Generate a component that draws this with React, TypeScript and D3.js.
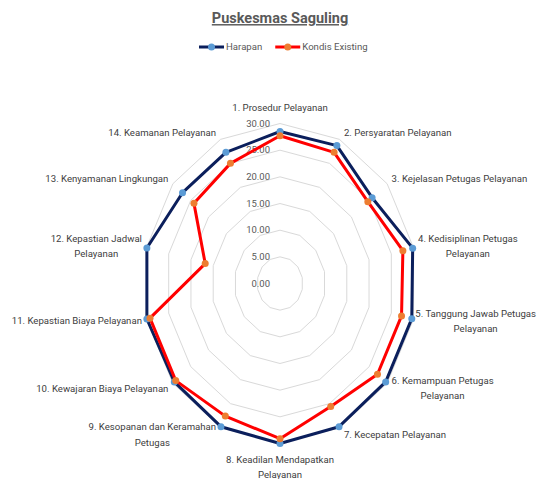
import { useRef, useEffect } from 'react'
import * as d3 from 'd3'

const categories = [
  '1. Prosedur Pelayanan',
  '2. Persyaratan Pelayanan',
  '3. Kejelasan Petugas Pelayanan',
  '4. Kedisiplinan Petugas\nPelayanan',
  '5. Tanggung Jawab Petugas\nPelayanan',
  '6. Kemampuan Petugas\nPelayanan',
  '7. Kecepatan Pelayanan',
  '8. Keadilan Mendapatkan\nPelayanan',
  '9. Kesopanan dan Keramahan\nPetugas',
  '10. Kewajaran Biaya Pelayanan',
  '11. Kepastian Biaya Pelayanan',
  '12. Kepastian Jadwal\nPelayanan',
  '13. Kenyamanan Lingkungan',
  '14. Keamanan Pelayanan',
]

const harapan = [28.5, 28.7, 25.8, 29.8, 29.6, 29.6, 29.8, 30.0, 29.8, 29.6, 29.9, 29.9, 27.3, 27.3]
const kondisi = [27.7, 27.3, 24.6, 27.6, 27.3, 27.3, 25.6, 29.1, 27.6, 29.2, 29.2, 16.8, 24.1, 25.0]

const seriesNames = ['Harapan', 'Kondis Existing']

const W = 537
const H = 479
const cx = 280
const cy = 283.5
const FONT = "Roboto, sans-serif"

export default function App() {
  const ref = useRef(null)

  useEffect(() => {
    const svg = d3.select(ref.current)
    svg.selectAll('*').remove()

    const rx = d3.scaleLinear([0, 30], [0, 137])
    const ry = d3.scaleLinear([0, 30], [0, 160])
    const ang = d3.scaleLinear([0, categories.length], [0, 2 * Math.PI])
    const px = (v, i) => cx + rx(v) * Math.sin(ang(i))
    const py = (v, i) => cy - ry(v) * Math.cos(ang(i))
    const idx = d3.range(categories.length)

    // grid
    const ticks = ry.ticks(6)
    svg.append('g')
      .selectAll('path')
      .data(ticks.filter(t => t > 0))
      .join('path')
      .attr('d', t => d3.line().x(i => px(t, i)).y(i => py(t, i)).curve(d3.curveLinearClosed)(idx))
      .attr('fill', 'none')
      .attr('stroke', '#d9d9d9')
      .attr('stroke-width', 1)

    // value labels
    svg.append('g')
      .selectAll('text')
      .data(ticks)
      .join('text')
      .attr('x', cx - 10)
      .attr('y', t => cy - ry(t))
      .attr('dy', '0.35em')
      .attr('text-anchor', 'end')
      .attr('font-family', FONT)
      .attr('font-size', 9.5)
      .attr('fill', '#595959')
      .text(d3.format('.2f'))

    // series
    const series = [
      { values: harapan, line: '#0b1f5c', marker: '#5b9bd5' },
      { values: kondisi, line: '#ff0000', marker: '#ed7d31' },
    ]
    series.forEach(s => {
      const g = svg.append('g')
      g.append('path')
        .attr('d', d3.line().x(i => px(s.values[i], i)).y(i => py(s.values[i], i)).curve(d3.curveLinearClosed)(idx))
        .attr('fill', 'none')
        .attr('stroke', s.line)
        .attr('stroke-width', 3)
        .attr('stroke-linejoin', 'round')
      g.selectAll('circle')
        .data(idx)
        .join('circle')
        .attr('cx', i => px(s.values[i], i))
        .attr('cy', i => py(s.values[i], i))
        .attr('r', 3.5)
        .attr('fill', s.marker)
    })

    // category labels
    const lh = 15.5
    categories.forEach((c, i) => {
      const lines = c.split('\n')
      const a = ang(i)
      const s = Math.sin(a)
      const co = Math.cos(a)
      const ox = px(30, i)
      const oy = py(30, i)
      const g = svg.append('g')
      const t = g.append('text')
        .attr('font-family', FONT)
        .attr('font-size', 9.6)
        .attr('fill', '#404040')
        .attr('text-anchor', 'middle')
      lines.forEach((l, k) => {
        t.append('tspan').attr('x', 0).attr('y', k * lh).attr('dy', '0.35em').text(l)
      })
      const bw = d3.max(t.selectAll('tspan').nodes(), n => n.getComputedTextLength())
      const bh = (lines.length - 1) * lh
      let tx, ty
      if (Math.abs(s) < 0.01) {
        tx = ox
        ty = co > 0 ? oy - 16 - bh : oy + 16
      } else {
        tx = ox + Math.sign(s) * (4.5 + bw / 2)
        ty = oy - 8 * co - bh / 2
      }
      tx = Math.max(bw / 2 + 1, Math.min(W - bw / 2 - 1, tx))
      g.attr('transform', `translate(${tx},${ty})`)
    })

    // title
    svg.append('text')
      .attr('x', cx)
      .attr('y', 18)
      .attr('dy', '0.35em')
      .attr('text-anchor', 'middle')
      .attr('font-family', FONT)
      .attr('font-size', 14.5)
      .attr('font-weight', 'bold')
      .attr('text-decoration', 'underline')
      .attr('fill', '#595959')
      .text('Puskesmas Saguling')

    // legend
    const legend = svg.append('g').attr('transform', 'translate(199,47)')
    let x0 = 0
    series.forEach((s, k) => {
      const g = legend.append('g').attr('transform', `translate(${x0},0)`)
      g.append('line').attr('x1', 0).attr('x2', 25).attr('stroke', s.line).attr('stroke-width', 3)
      g.append('circle').attr('cx', 12.5).attr('r', 3.5).attr('fill', s.marker)
      const t = g.append('text')
        .attr('x', 27)
        .attr('dy', '0.35em')
        .attr('font-family', FONT)
        .attr('font-size', 9.6)
        .attr('fill', '#595959')
        .text(seriesNames[k])
      x0 += 27 + t.node().getComputedTextLength() + 13
    })
  }, [])

  return (
    <svg ref={ref} width={W} height={H} style={{ position: 'absolute', left: 0, top: 0, background: '#fff' }} />
  )
}
